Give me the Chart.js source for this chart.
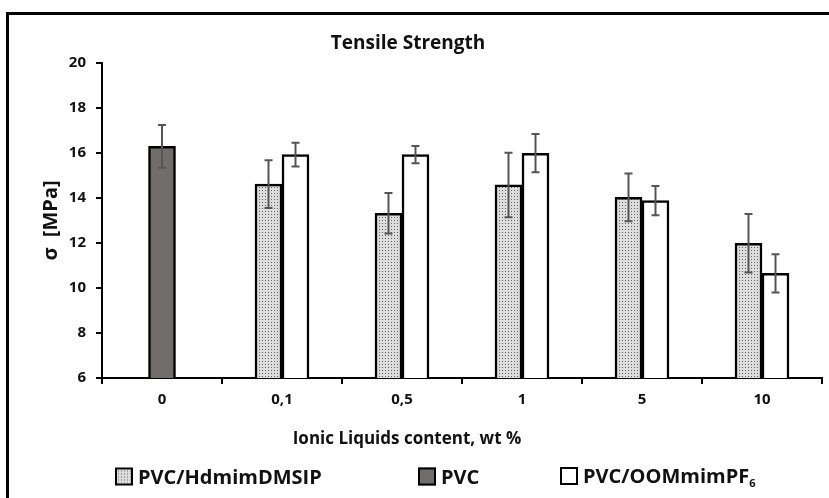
<!DOCTYPE html>
<html lang="en">
<head>
    <meta charset="UTF-8">
    <title>Tensile Strength</title>
    <script src="https://cdn.jsdelivr.net/npm/chart.js"></script>
    <style>
        html, body { margin: 0; padding: 0; background: #fff; overflow: hidden; }
        #wrap { position: relative; width: 829px; height: 498px; font-family: "Open Sans", Lato, sans-serif; color: #111; }
        #frame { position: absolute; left: 6px; top: 12px; width: 900px; height: 600px; border: 3px solid #000; box-sizing: border-box; }
        canvas { position: absolute; left: 0; top: 0; }
        .txt { position: absolute; font-weight: bold; white-space: nowrap; transform: translate(-50%, -50%); }
        #legend { position: absolute; top: 476px; left: 0; width: 829px; }
        .item { position: absolute; display: flex; align-items: center; transform: translateY(-50%); font-weight: bold; font-size: 20px; }
        .box { width: 14px; height: 14px; border: 2px solid #000; margin-right: 5px; }
        sub { font-size: 11px; vertical-align: -4px; }
    </style>
</head>
<body>
<div id="wrap">
    <div id="frame"></div>
    <canvas id="chart" width="829" height="498"></canvas>
    <div class="txt" style="left:408px;top:42px;font-size:19px;">Tensile Strength</div>
    <div class="txt" style="left:407px;top:437px;font-size:17px;">Ionic Liquids content, wt %</div>
    <div id="legend"></div>
</div>
<script>
const categories = ['0', '0,1', '0,5', '1', '5', '10'];
const hdmimValues = [null, 14.62, 13.32, 14.58, 14.03, 11.99];
const hdmimErrors = [null, 1.06, 0.90, 1.43, 1.06, 1.30];
const pvcValues = [16.30, null, null, null, null, null];
const pvcErrors = [0.95, null, null, null, null, null];
const oomimValues = [null, 15.93, 15.93, 15.99, 13.88, 10.65];
const oomimErrors = [null, 0.53, 0.38, 0.85, 0.65, 0.85];
const seriesLabels = ['PVC/HdmimDMSIP', 'PVC', 'PVC/OOMmimPF6'];
const yMin = 6, yMax = 20, yStep = 2;

// stipple fill for the HdmimDMSIP bars
function makeStipple() {
    const c = document.createElement('canvas');
    c.width = 3; c.height = 3;
    const g = c.getContext('2d');
    g.fillStyle = '#dedede';
    g.fillRect(0, 0, 3, 3);
    g.fillStyle = '#5e5e5e';
    g.fillRect(1, 1, 1, 1);
    return c;
}
const stippleCanvas = makeStipple();
const ctx = document.getElementById('chart').getContext('2d');
const stipple = ctx.createPattern(stippleCanvas, 'repeat');
const fills = [stipple, '#716d6d', '#ffffff'];
const errorSets = [hdmimErrors, pvcErrors, oomimErrors];

const errorBars = {
    id: 'errorBars',
    afterDatasetsDraw(chart) {
        const c = chart.ctx;
        const y = chart.scales.y;
        c.save();
        c.strokeStyle = '#555555';
        c.lineWidth = 2;
        chart.data.datasets.forEach((ds, di) => {
            const meta = chart.getDatasetMeta(di);
            meta.data.forEach((bar, i) => {
                const v = ds.data[i];
                const e = errorSets[di][i];
                if (v == null || e == null) return;
                const top = y.getPixelForValue(v + e);
                const bot = y.getPixelForValue(v - e);
                c.beginPath();
                c.moveTo(bar.x, top); c.lineTo(bar.x, bot);
                c.moveTo(bar.x - 4, top); c.lineTo(bar.x + 4, top);
                c.moveTo(bar.x - 4, bot); c.lineTo(bar.x + 4, bot);
                c.stroke();
            });
        });
        c.restore();
    }
};

const tickFont = {family: '"Open Sans", Lato, sans-serif', size: 15, weight: 'bold'};

new Chart(ctx, {
    type: 'bar',
    data: {
        labels: categories,
        datasets: [
            {label: seriesLabels[0], data: hdmimValues, backgroundColor: fills[0], borderColor: '#000', borderWidth: 2.5, barThickness: 27},
            {label: seriesLabels[1], data: pvcValues, backgroundColor: fills[1], borderColor: '#000', borderWidth: 2.5, barThickness: 27, grouped: false},
            {label: seriesLabels[2], data: oomimValues, backgroundColor: fills[2], borderColor: '#000', borderWidth: 2.5, barThickness: 27}
        ]
    },
    options: {
        responsive: false,
        animation: false,
        layout: {padding: {left: 20, top: 63, right: 7, bottom: 80}},
        plugins: {legend: {display: false}, tooltip: {enabled: false}},
        scales: {
            x: {
                grid: {drawOnChartArea: false, color: '#000', lineWidth: 2, tickLength: 6, offset: true},
                border: {color: '#000', width: 2},
                ticks: {color: '#111', font: tickFont, padding: 7},
                afterFit(s) { s.height = 40; }
            },
            y: {
                min: yMin, max: yMax,
                grid: {drawOnChartArea: false, color: '#000', lineWidth: 2, tickLength: 6},
                border: {color: '#000', width: 2},
                ticks: {stepSize: yStep, color: '#111', font: tickFont, padding: 10},
                title: {display: true, text: 'σ  [MPa]', color: '#111', padding: {top: 19, bottom: 0},
                    font: {family: '"Open Sans", Lato, sans-serif', size: 20, weight: 'bold'}},
                afterFit(s) { s.width = 82; }
            }
        }
    },
    plugins: [errorBars]
});

// legend
const legendPos = [115, 418, 560];
const legend = document.getElementById('legend');
seriesLabels.forEach((lab, i) => {
    const item = document.createElement('div');
    item.className = 'item';
    item.style.left = legendPos[i] + 'px';
    const box = document.createElement('div');
    box.className = 'box';
    if (i === 0) box.style.backgroundImage = 'url(' + stippleCanvas.toDataURL() + ')';
    else box.style.background = fills[i];
    const span = document.createElement('span');
    const m = lab.match(/^(.*PF)(\d)$/);
    if (m) { span.textContent = m[1]; const sb = document.createElement('sub'); sb.textContent = m[2]; span.appendChild(sb); }
    else span.textContent = lab;
    item.appendChild(box);
    item.appendChild(span);
    legend.appendChild(item);
});
</script>
</body>
</html>
